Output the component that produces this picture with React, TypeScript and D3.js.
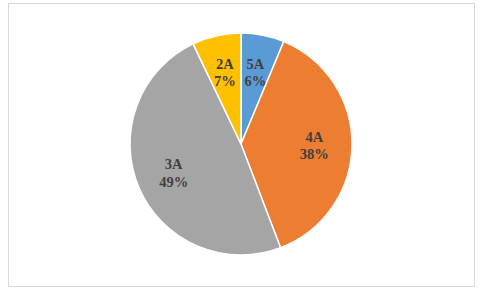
import React from "react";
import * as d3 from "d3";

const categories = ["5A", "4A", "3A", "2A"];
const values = [6.3, 37.9, 48.7, 7.1];
const colors = ["#5B9BD5", "#ED7D31", "#A5A5A5", "#FFC000"];

export default function App() {
  const W = 484, H = 290;
  const cx = 241, cy = 144, r = 111;
  const data = categories.map((c, i) => ({ c, v: values[i], color: colors[i] }));
  const total = d3.sum(values);
  const pie = d3.pie<any>().value((d) => d.v).sort(null);
  const arcs = pie(data);
  const arc = d3.arc<any>().innerRadius(0).outerRadius(r);
  const labelArc = d3.arc<any>().innerRadius(r * 0.66).outerRadius(r * 0.66);
  return (
    <svg width={W} height={H} style={{ position: "absolute", left: 0, top: 0 }}>
      <rect x={0} y={0} width={W} height={H} fill="#fff" />
      <rect x={8.5} y={3.5} width={466} height={283} fill="#fff" stroke="#d9d9d9" strokeWidth={1} />
      <g transform={`translate(${cx},${cy})`}>
        {arcs.map((a, i) => (
          <path key={i} d={arc(a) as string} fill={a.data.color} stroke="#fff" strokeWidth={1.5} />
        ))}
        {arcs.map((a, i) => {
          const [x, y] = labelArc.centroid(a);
          const pct = Math.round((a.data.v / total) * 100);
          return (
            <text key={"t" + i} x={x} y={y} textAnchor="middle" fontFamily="'Liberation Serif', serif" fontWeight="bold" fontSize={14.5} fill="#404040">
              <tspan x={x} dy="-0.25em">{a.data.c}</tspan>
              <tspan x={x} dy="1.2em">{pct + "%"}</tspan>
            </text>
          );
        })}
      </g>
    </svg>
  );
}
